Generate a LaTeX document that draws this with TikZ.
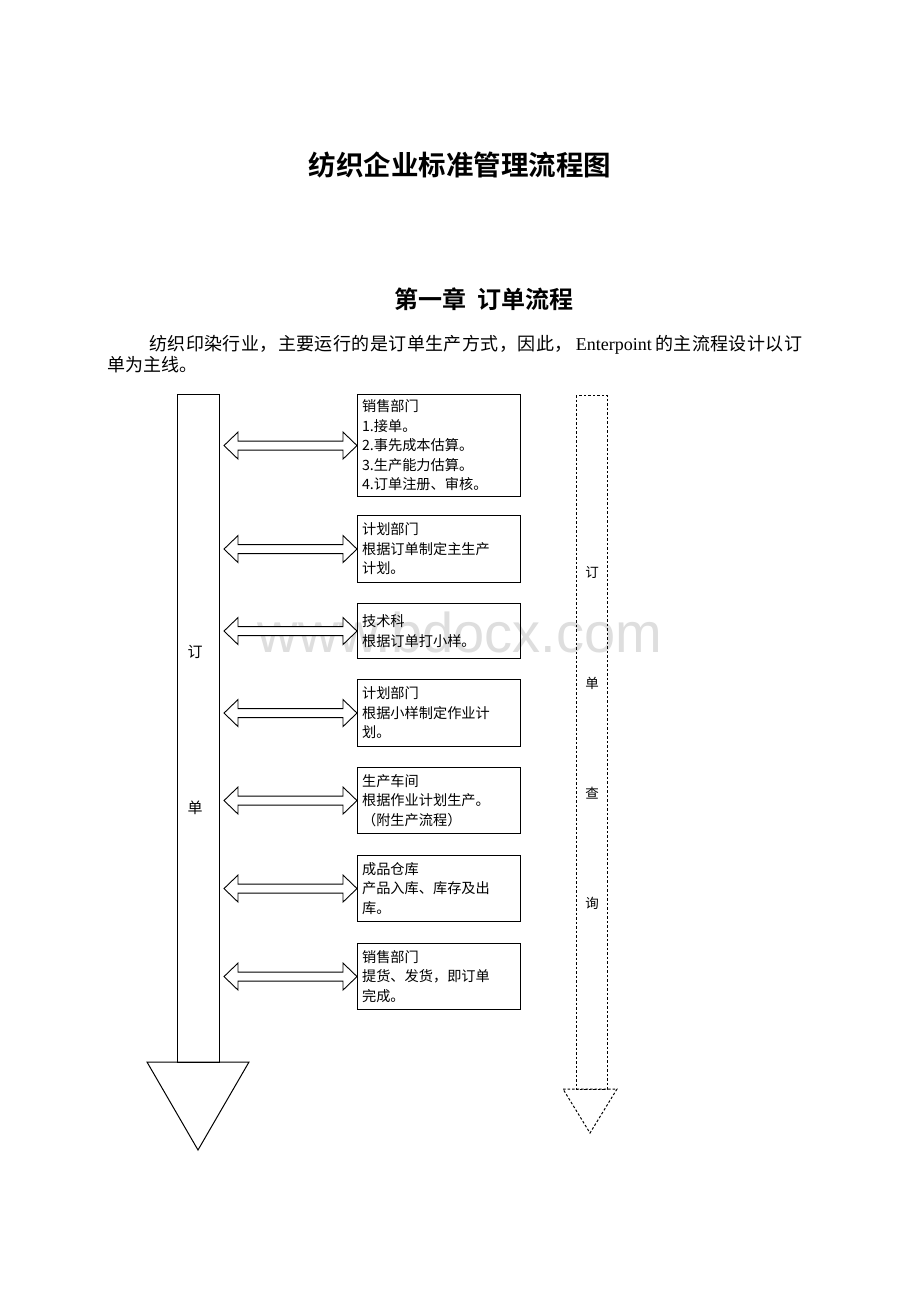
\documentclass[tikz,border=0pt]{standalone}
\usepackage{fontspec}
\setmainfont{Liberation Serif}
\newfontfamily\cjk{Noto Sans CJK SC}[BoldFont={* Bold}]
\newfontfamily\wm{Liberation Sans}
\usetikzlibrary{calc}
\def\g{\hskip 0pt plus 1fil\relax}
\tikzset{
  box/.style={draw, line width=1.1pt, anchor=north west, align=left,
    text width=154pt, inner xsep=4.5pt, inner ysep=2pt,
    font=\cjk\fontsize{14.2}{19.5}\selectfont},
  dbl/.style={draw, line width=0.9pt, fill=white},
  mainline/.style={draw, line width=1pt},
  dotline/.style={draw, line width=1pt, dash pattern=on 2.5pt off 2pt},
  lbl/.style={font=\cjk\fontsize{15}{15}\selectfont, inner sep=0pt},
  qlbl/.style={font=\cjk\fontsize{13.5}{13.5}\selectfont, inner sep=0pt}
}
\begin{document}
\begin{tikzpicture}[x=1pt,y=-1pt]
\useasboundingbox[fill=white] (0,0) rectangle (920,1302);
% watermark
\node[text=black!13, font=\wm\fontsize{56}{56}\selectfont, inner sep=0pt] (wmark) at (460,632) {www.bdocx.com};
% title and text
\node[font=\cjk\bfseries\fontsize{27.5}{30}\selectfont, inner sep=0pt] (title) at (460,165) {纺织企业标准管理流程图};
\node[font=\cjk\bfseries\fontsize{24}{26}\selectfont, inner sep=0pt] (chap) at (484,299) {第一章\hspace{11pt}订单流程};
\node[font=\cjk\fontsize{18}{22}\selectfont, anchor=west, inner sep=0pt] (p1) at (149,345)
  {\hbox to 653pt{纺\g 织\g 印\g 染\g 行\g 业\g ，\g 主\g 要\g 运\g 行\g 的\g 是\g 订\g 单\g 生\g 产\g 方\g 式\g ，\g 因\g 此\g ，\g \hspace{3pt}{\rmfamily Enterpoint}\hspace{3pt}\g 的\g 主\g 流\g 程\g 设\g 计\g 以\g 订}};
\node[font=\cjk\fontsize{18}{22}\selectfont, anchor=west, inner sep=0pt] (p2) at (107,365) {单为主线。};
% main arrow
\draw[mainline] (177,394) rectangle (219,1062);
\draw[mainline, line join=miter] (147,1062) -- (249,1062) -- (198,1150) -- cycle;
\node[lbl] (m1) at (195,652) {订};
\node[lbl] (m2) at (195,808) {单};
% query arrow
\draw[dotline] (576,395) rectangle (607,1089);
\draw[dotline] (563,1089) -- (617,1089) -- (590,1133) -- cycle;
\node[qlbl] (q1) at (592,572) {订};
\node[qlbl] (q2) at (592,683) {单};
\node[qlbl] (q3) at (592,793) {查};
\node[qlbl] (q4) at (592,903) {询};
% boxes
\node[box, minimum height=102pt] (b1) at (357,394) {销售部门\\1.接单。\\2.事先成本估算。\\3.生产能力估算。\\4.订单注册、审核。};
\node[box, minimum height=67pt] (b2) at (357,515) {计划部门\\根据订单制定主生产\\计划。};
\node[box, minimum height=55pt] (b3) at (357,603) {技术科\\根据订单打小样。};
\node[box, minimum height=67pt] (b4) at (357,679) {计划部门\\根据小样制定作业计\\划。};
\node[box, minimum height=66pt] (b5) at (357,767) {生产车间\\根据作业计划生产。\\（附生产流程）};
\node[box, minimum height=66pt] (b6) at (357,855) {成品仓库\\产品入库、库存及出\\库。};
\node[box, minimum height=66pt] (b7) at (357,943) {销售部门\\提货、发货，即订单\\完成。};
% double arrows between main line and boxes
\foreach \b in {b1,b2,b3,b4,b5,b6,b7}{
  \draw[dbl, line join=miter] ($(\b.west)+(-133,0)$) -- ($(\b.west)+(-119,-13.5)$) -- ($(\b.west)+(-119,-4.5)$)
    -- ($(\b.west)+(-14,-4.5)$) -- ($(\b.west)+(-14,-13.5)$) -- (\b.west)
    -- ($(\b.west)+(-14,13.5)$) -- ($(\b.west)+(-14,4.5)$) -- ($(\b.west)+(-119,4.5)$)
    -- ($(\b.west)+(-119,13.5)$) -- cycle;
}
\end{tikzpicture}
\end{document}
